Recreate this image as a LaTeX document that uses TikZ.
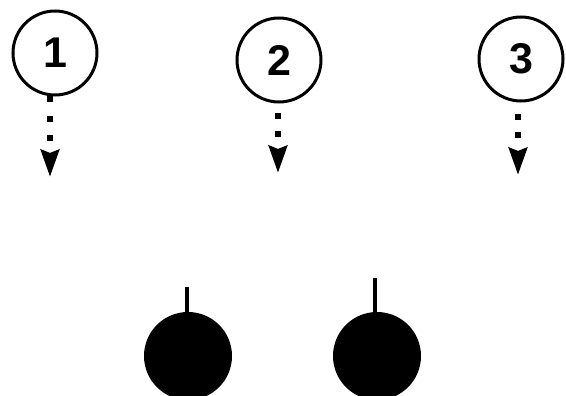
\documentclass[tikz,border=0pt]{standalone}
\usepackage{fontspec}
\setmainfont{Liberation Sans}
\usetikzlibrary{arrows.meta}
\tikzset{
  numcircle/.style={circle, draw=black, line width=3pt, minimum size=84pt, inner sep=0pt,
    font=\fontsize{43}{43}\selectfont\bfseries},
  blackdot/.style={circle, fill=black, minimum size=88pt, inner sep=0pt},
  stem/.style={line width=4pt},
  dotarrow/.style={line width=6.5pt, -{Stealth[length=27pt, width=18pt, inset=3pt]}},
}
\begin{document}
\begin{tikzpicture}[x=1pt, y=-1pt]
\clip (0,0) rectangle (566,396);
\fill[white] (0,0) rectangle (566,396);
\node[numcircle] (c1) at (55,53) {\raisebox{-3pt}{1}};
\node[numcircle] (c2) at (279,60) {2};
\node[numcircle] (c3) at (521,59) {\raisebox{-1pt}{3}};
\coordinate (t1) at (50,177);
\coordinate (t2) at (278,173);
\coordinate (t3) at (518,175);
\draw[dotarrow, dash pattern=on 6pt off 14pt on 6pt off 13pt on 6pt off 40pt] (c1.south -| t1) -- (t1);
\draw[dotarrow, dash pattern=on 0pt off 10pt on 6pt off 12pt on 6pt off 40pt] (c2.south -| t2) -- (t2);
\draw[dotarrow, dash pattern=on 0pt off 12pt on 6pt off 12pt on 6pt off 40pt] (c3.south -| t3) -- (t3);
\node[blackdot] (d1) at (188,356) {};
\node[blackdot] (d2) at (377,356) {};
\coordinate (s1) at (187,287);
\coordinate (s2) at (375,278);
\draw[stem] (s1) -- (d1.north -| s1);
\draw[stem] (s2) -- (d2.north -| s2);
\end{tikzpicture}
\end{document}
